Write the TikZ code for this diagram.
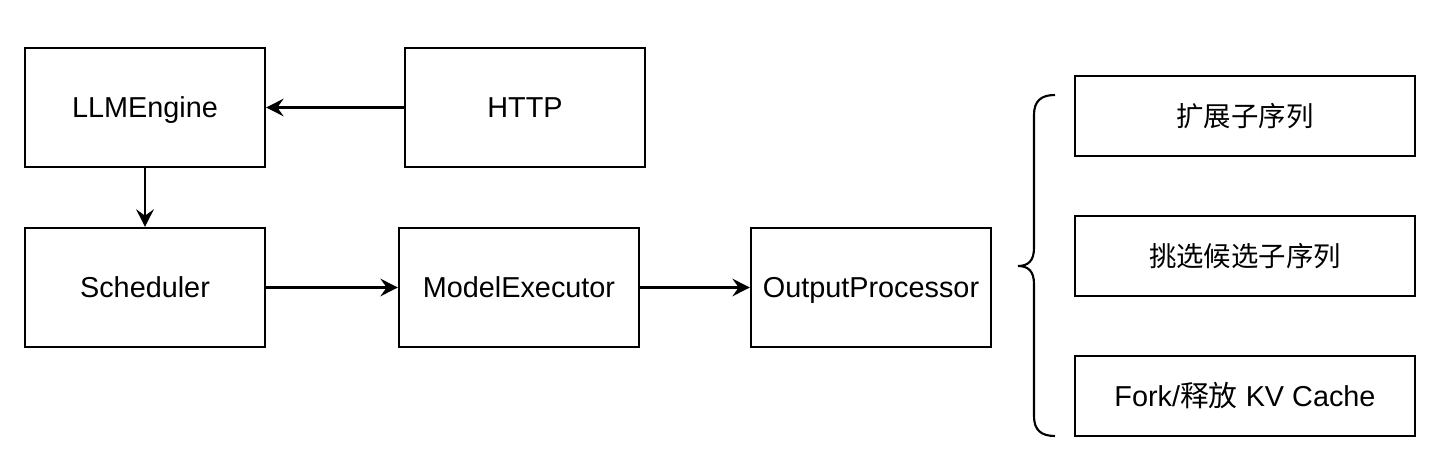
\documentclass[tikz,border=0pt]{standalone}
\usepackage{fontspec}
\setmainfont{Liberation Sans}
\newfontfamily\cjk{Noto Sans CJK SC}
\usetikzlibrary{arrows.meta}

\begin{document}
\begin{tikzpicture}[
    box/.style={draw, line width=0.6pt, minimum width=2.4cm, minimum height=1.19cm, inner sep=0pt, text height=5.9pt, text depth=0pt, font=\fontsize{8.2pt}{10pt}\selectfont},
    wide/.style={box, minimum width=3.4cm, minimum height=0.8cm},
    >={Stealth[length=5pt,width=5pt,inset=1.8pt]},
    every path/.style={line width=0.6pt}
]
                \useasboundingbox (0,0) rectangle (14.48,4.5);

                \node[box] at (1.45,3.425) (engine) {LLMEngine};
                \node[box] at (5.25,3.425) (http) {HTTP};

                \node[box] at (1.45,1.625) (sched) {Scheduler};
                \node[box] at (5.19,1.625) (exec) {ModelExecutor};
                \node[box] at (8.71,1.625) (output) {OutputProcessor};

                \node[wide] at (12.45,3.34) (expand) {\cjk\fontsize{7.8pt}{10pt}\selectfont 扩展子序列};
                \node[wide] at (12.45,1.94) (select) {\cjk\fontsize{7.8pt}{10pt}\selectfont 挑选候选子序列};
                \node[wide] at (12.45,0.54) (fork) {Fork/{\cjk 释放} KV Cache};

                \draw[->] (http) -- (engine);
                \draw[->] (engine) -- (sched);
                \draw[->] (sched) -- (exec);
                \draw[->] (exec) -- (output);

                % brace
                \draw (10.55,3.55) .. controls (10.41,3.55) and (10.34,3.49) .. (10.34,3.35)
                    -- (10.34,2.02) .. controls (10.34,1.89) and (10.28,1.84) .. (10.18,1.84)
                    .. controls (10.28,1.84) and (10.34,1.79) .. (10.34,1.66)
                    -- (10.34,0.34) .. controls (10.34,0.20) and (10.41,0.14) .. (10.55,0.14);

            \end{tikzpicture}
\end{document}
